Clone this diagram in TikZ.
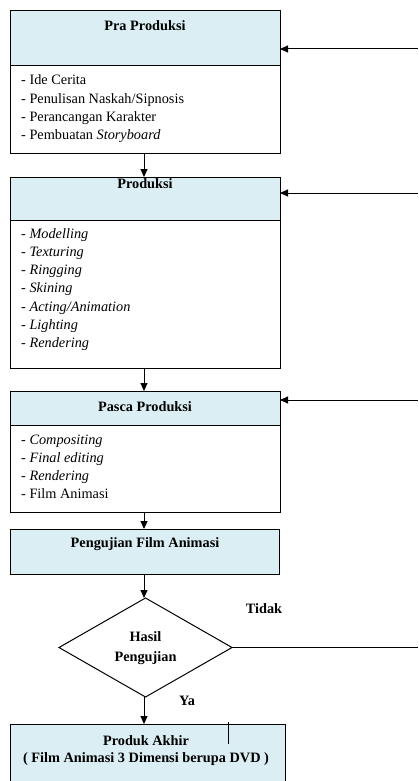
\documentclass[tikz,border=0pt]{standalone}
\usepackage{fontspec}
\setmainfont{Liberation Serif}
\usetikzlibrary{shapes.geometric,arrows.meta}
\definecolor{hdr}{HTML}{DAEEF3}
\begin{document}
\begin{tikzpicture}[x=1pt,y=-1pt,
  font=\fontsize{14.3}{18.3}\selectfont,
  box/.style={draw=black,line width=1pt,inner sep=0pt,outer sep=0pt,minimum width=270pt},
  hd/.style={box,fill=hdr},
  bd/.style={box,fill=white},
  conn/.style={line width=1pt},
  arr/.style={conn,-{Triangle[length=8pt,width=7pt]}},
  lbl/.style={inner sep=0pt,anchor=base,font=\fontsize{14.3}{18.3}\selectfont\bfseries},
  item/.style={inner sep=0pt,anchor=base west}]
\useasboundingbox[fill=white] (0,0) rectangle (418,781);

% boxes
\node[hd, minimum height=55pt] (h1) at (145,38.5) {};
\node[bd, minimum height=87pt] (b1) at (145,109.5) {};
\node[hd, minimum height=43pt] (h2) at (145,198.5) {};
\node[bd, minimum height=148pt] (b2) at (145,294) {};
\node[hd, minimum height=34pt] (h3) at (145,408) {};
\node[bd, minimum height=87pt] (b3) at (145,468.5) {};
\node[hd, minimum height=45pt, minimum width=269pt] (h4) at (144.5,551.5) {};
\node[draw=black, line width=1pt, fill=white, diamond, inner sep=0pt, outer sep=0pt,
      minimum width=173pt, minimum height=99pt] (d) at (145.5,647.5) {};
\node[hd, minimum height=80pt, minimum width=275pt] (h5) at (147.5,764) {};

% headings
\node[lbl] (t1) at (145,31) {Pra Produksi};
\node[lbl] (t2) at (145,188) {Produksi};
\node[lbl] (t3) at (145,411) {Pasca Produksi};
\node[lbl] (t4) at (145,547) {Pengujian Film Animasi};
\node[lbl] (t5a) at (145.5,641) {Hasil};
\node[lbl] (t5b) at (145.5,661) {Pengujian};
\node[lbl] (tid) at (264,613) {Tidak};
\node[lbl] (ya) at (187,705) {Ya};
\node[lbl] (t6a) at (146,745) {Produk Akhir};
\node[lbl] (t6b) at (146,762) {( Film Animasi 3 Dimensi berupa DVD )};

% lists
\node[item] (i11) at (21,85) {- Ide Cerita};
\node[item] (i12) at (21,103.3) {- Penulisan Naskah/Sipnosis};
\node[item] (i13) at (21,121.6) {- Perancangan Karakter};
\node[item] (i14) at (21,139.9) {- Pembuatan \textit{Storyboard}};

\node[item] (i21) at (21,238) {- \textit{Modelling}};
\node[item] (i22) at (21,256.3) {- \textit{Texturing}};
\node[item] (i23) at (21,274.6) {- \textit{Ringging}};
\node[item] (i24) at (21,292.9) {- \textit{Skining}};
\node[item] (i25) at (21,311.2) {- \textit{Acting/Animation}};
\node[item] (i26) at (21,329.5) {- \textit{Lighting}};
\node[item] (i27) at (21,347.8) {- \textit{Rendering}};

\node[item] (i31) at (21,444) {- \textit{Compositing}};
\node[item] (i32) at (21,462.3) {- \textit{Final editing}};
\node[item] (i33) at (21,480.6) {- \textit{Rendering}};
\node[item] (i34) at (21,498.9) {- Film Animasi};

% vertical flow
\draw[arr] ([xshift=-1pt]b1.south) -- ([xshift=-1pt]h2.north);
\draw[arr] ([xshift=-1pt]b2.south) -- ([xshift=-1pt]h3.north);
\draw[arr] ([xshift=-1pt]b3.south) -- ([xshift=-1pt]h4.north -| b3.south);
\draw[arr] ([xshift=-0.5pt]h4.south) -- ([xshift=-1.5pt]d.north);
\draw[arr] ([xshift=-1.5pt]d.south) -- ([xshift=-1.5pt]d.south |- h5.north);

% feedback lines
\coordinate (r1) at (418,49);
\coordinate (r2) at (418,193);
\coordinate (r3) at (418,400);
\coordinate (r4) at (418,647.5);
\draw[arr] (r1) -- (h1.east |- r1);
\draw[arr] (r2) -- (h2.east |- r2);
\draw[arr] (r3) -- (h3.east |- r3);
\draw[conn] (d.east) -- (r4);

% stray mark
\coordinate (s1) at (228,722);
\coordinate (s2) at (228,744);
\draw[line width=0.8pt] (s1) -- (s2);
\end{tikzpicture}
\end{document}
